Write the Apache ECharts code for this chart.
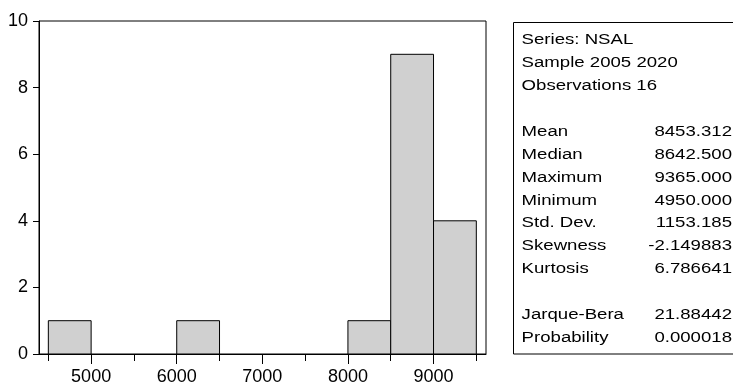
<!DOCTYPE html>
<html>
<head>
<meta charset="utf-8">
<script src="https://cdn.jsdelivr.net/npm/echarts@6/dist/echarts.min.js"></script>
<style>
html,body{margin:0;padding:0;background:#fff;}
#chart{width:733px;height:386px;}
</style>
</head>
<body>
<div id="chart"></div>
<script>
// ---- data ----
const binLower = [4500, 5000, 5500, 6000, 6500, 7000, 7500, 8000, 8500, 9000];
const binWidth = 500;
const binCounts = [1, 0, 0, 1, 0, 0, 0, 1, 9, 4];
const xMajorTicks = [5000, 6000, 7000, 8000, 9000];
const xMinorTicks = [4500, 5500, 6500, 7500, 8500, 9500];
const headerLines = ['Series: NSAL', 'Sample 2005 2020', 'Observations 16'];
const statNames = ['Mean', 'Median', 'Maximum', 'Minimum', 'Std. Dev.', 'Skewness', 'Kurtosis'];
const statValues = ['8453.312', '8642.500', '9365.000', '4950.000', '1153.185', '-2.149883', '6.786641'];
const testNames = ['Jarque-Bera', 'Probability'];
const testValues = ['21.88442', '0.000018'];

const histData = binLower.map((lo, i) => [lo, lo + binWidth, binCounts[i]]);

// ---- stats box ----
const FONT = '15.5px "Liberation Sans", Arial, sans-serif';
const SX = 1.2;
const rowY = k => 40 + 22.9 * k;
const graphics = [{
  type: 'rect',
  shape: { x: 513.5, y: 22.5, width: 240, height: 331.5 },
  style: { fill: '#fff', stroke: '#000', lineWidth: 1 },
  z: 1
}];
function addText(txt, k, align) {
  graphics.push({
    type: 'text',
    x: align === 'left' ? 521.6 : 732,
    y: rowY(k),
    scaleX: SX,
    z: 2,
    style: { text: txt, font: FONT, fill: '#000', textAlign: align, textVerticalAlign: 'middle' }
  });
}
headerLines.forEach((t, i) => addText(t, i, 'left'));
statNames.forEach((t, i) => { addText(t, 4 + i, 'left'); addText(statValues[i], 4 + i, 'right'); });
testNames.forEach((t, i) => { addText(t, 12 + i, 'left'); addText(testValues[i], 12 + i, 'right'); });

const chart = echarts.init(document.getElementById('chart'), null, { renderer: 'canvas' });
const axisFont = { fontFamily: '"Liberation Sans", Arial, sans-serif', fontSize: 18, color: '#000' };
chart.setOption({
  animation: false,
  backgroundColor: '#fff',
  grid: { left: 39, top: 21, right: 247, bottom: 29, show: true, borderColor: '#000', borderWidth: 1, backgroundColor: 'transparent' },
  xAxis: [{
    type: 'value', min: 4391, max: 9613, position: 'bottom',
    axisLine: { show: true, lineStyle: { color: '#000', width: 1 } },
    axisTick: { show: true, customValues: xMajorTicks, length: 10, inside: false, lineStyle: { color: '#000', width: 1 } },
    axisLabel: Object.assign({ show: true, customValues: xMajorTicks, margin: 14, formatter: v => String(v) }, axisFont),
    splitLine: { show: false }
  }, {
    type: 'value', min: 4391, max: 9613, position: 'bottom',
    axisLine: { show: false },
    axisTick: { show: true, customValues: xMinorTicks, length: 7, inside: false, lineStyle: { color: '#000', width: 1 } },
    axisLabel: { show: false },
    splitLine: { show: false }
  }],
  yAxis: {
    type: 'value', min: 0, max: 10, interval: 2,
    axisLine: { show: true, lineStyle: { color: '#000', width: 1 } },
    axisTick: { show: true, length: 6, inside: false, lineStyle: { color: '#000', width: 1 } },
    axisLabel: Object.assign({ margin: 11, formatter: v => String(v) }, axisFont),
    splitLine: { show: false }
  },
  graphic: graphics,
  series: [{
    type: 'custom',
    xAxisIndex: 0,
    yAxisIndex: 0,
    encode: { x: [0, 1], y: 2 },
    data: histData,
    renderItem: function (params, api) {
      const lo = api.value(0), hi = api.value(1), c = api.value(2);
      if (!c) return null;
      const p0 = api.coord([lo, c]);
      const p1 = api.coord([hi, 0]);
      return {
        type: 'rect',
        shape: { x: p0[0], y: p0[1], width: p1[0] - p0[0], height: p1[1] - p0[1] },
        style: { fill: '#d0d0d0', stroke: '#000', lineWidth: 1 }
      };
    }
  }]
});
</script>
</body>
</html>
